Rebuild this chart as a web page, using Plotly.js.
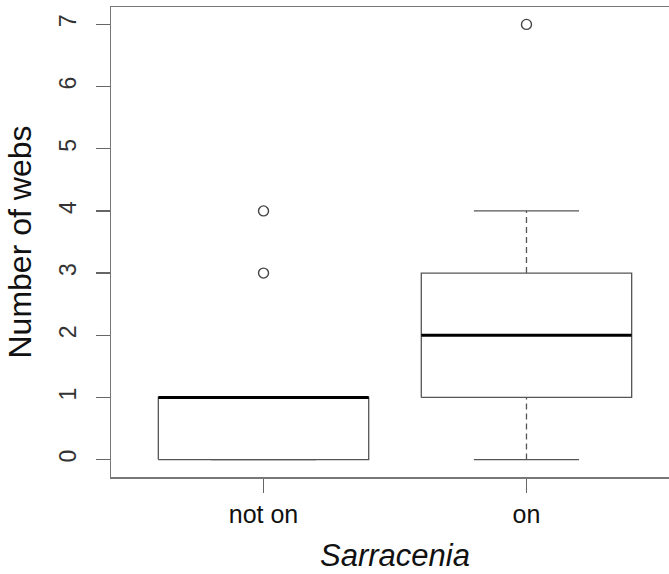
<!DOCTYPE html>
<html>
<head>
<meta charset="utf-8">
<script src="https://cdn.plot.ly/plotly-3.0.1.min.js"></script>
<style>
html,body{margin:0;padding:0;overflow:hidden;background:#fff;width:669px;height:574px;}
#chart{width:700px;height:574px;}
</style>
</head>
<body>
<div id="chart"></div>
<script>
// Data
const categories = ['not on', 'on'];
const positions = [1, 2];
const lowerWhisker = [0, 0];
const q1 = [0, 1];
const median = [1, 2];
const q3 = [1, 3];
const upperWhisker = [1, 4];
const outliers = [[3, 4], [7]];
const yTicks = [0, 1, 2, 3, 4, 5, 6, 7];

const boxHalf = 0.4, stapleHalf = 0.2;
const lineColor = '#555';
const traces = [];

positions.forEach((c, i) => {
  // box rectangle
  traces.push({
    x: [c - boxHalf, c + boxHalf, c + boxHalf, c - boxHalf, c - boxHalf],
    y: [q1[i], q1[i], q3[i], q3[i], q1[i]],
    mode: 'lines', line: {color: lineColor, width: 1.3}, hoverinfo: 'skip'
  });
  // whiskers (dashed)
  traces.push({
    x: [c, c, null, c, c],
    y: [lowerWhisker[i], q1[i], null, q3[i], upperWhisker[i]],
    mode: 'lines', line: {color: lineColor, width: 1.3, dash: '6px,4px'}, hoverinfo: 'skip'
  });
  // staples
  traces.push({
    x: [c - stapleHalf, c + stapleHalf, null, c - stapleHalf, c + stapleHalf],
    y: [lowerWhisker[i], lowerWhisker[i], null, upperWhisker[i], upperWhisker[i]],
    mode: 'lines', line: {color: lineColor, width: 1.3}, hoverinfo: 'skip'
  });
  // median (thick)
  traces.push({
    x: [c - boxHalf, c + boxHalf],
    y: [median[i], median[i]],
    mode: 'lines', line: {color: '#000', width: 3}, hoverinfo: 'skip'
  });
  // outliers
  traces.push({
    x: outliers[i].map(() => c),
    y: outliers[i],
    mode: 'markers',
    marker: {symbol: 'circle-open', size: 10, color: '#444', line: {width: 1.4, color: '#444'}},
    hoverinfo: 'skip'
  });
});

const layout = {
  width: 700, height: 574,
  margin: {l: 111, r: 21, t: 7, b: 97},
  paper_bgcolor: '#fff', plot_bgcolor: '#fff',
  showlegend: false,
  font: {family: 'Liberation Sans, Arial, sans-serif', color: '#111'},
  xaxis: {
    range: [0.42, 2.58], tickvals: positions, ticktext: categories,
    showgrid: false, zeroline: false,
    showline: true, mirror: true, linecolor: '#777', linewidth: 1.5,
    ticks: 'outside', ticklen: 14, tickcolor: '#666', tickwidth: 1.3,
    tickfont: {size: 25, color: '#111'},
    title: {text: '<i>Sarracenia</i>', font: {size: 31, color: '#111'}, standoff: 18},
    automargin: false, fixedrange: true
  },
  yaxis: {
    range: [-0.28, 7.28], tickvals: yTicks, ticktext: yTicks.map(String),
    showgrid: false, zeroline: false,
    showline: true, mirror: true, linecolor: '#777', linewidth: 1.5,
    ticks: 'outside', ticklen: 14, tickcolor: '#666', tickwidth: 1.3,
    tickangle: -90, ticklabelstandoff: 10,
    tickfont: {size: 23, color: '#333'},
    title: {text: 'Number of webs', font: {size: 32, color: '#111'}, standoff: 14},
    automargin: false, fixedrange: true
  }
};

Plotly.newPlot('chart', traces, layout, {displayModeBar: false, staticPlot: true});
</script>
</body>
</html>
